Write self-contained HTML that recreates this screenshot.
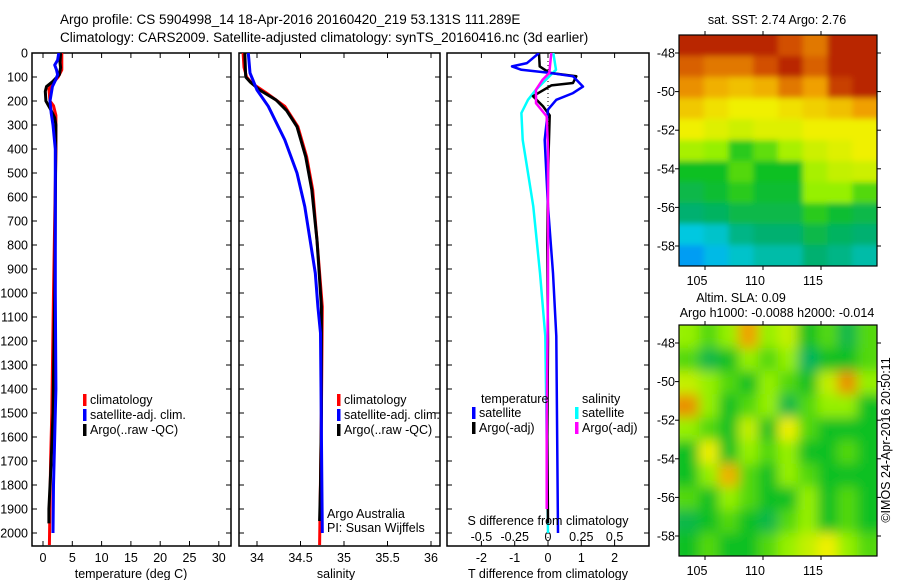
<!DOCTYPE html>
<html><head><meta charset="utf-8"><style>
body{margin:0;background:#fff;}
svg{display:block;font-family:"Liberation Sans",sans-serif;}
</style></head><body>
<svg id="c" width="900" height="580" xmlns="http://www.w3.org/2000/svg">
<defs>
<clipPath id="cp1"><rect x="32" y="53" width="199" height="493"/></clipPath>
<clipPath id="cp2"><rect x="239" y="53" width="201" height="493"/></clipPath>
<clipPath id="cp3"><rect x="447" y="53" width="202" height="493"/></clipPath>
<clipPath id="cm1"><rect x="679" y="35" width="198" height="231"/></clipPath>
<clipPath id="cm2"><rect x="679" y="325" width="198" height="231"/></clipPath>
<filter id="bl" x="-5%" y="-5%" width="110%" height="110%"><feGaussianBlur stdDeviation="6"/></filter>
<filter id="bl2" x="-5%" y="-5%" width="110%" height="110%"><feGaussianBlur stdDeviation="3"/></filter>
</defs>
<text x="60" y="24" font-size="13.5">Argo profile: CS 5904998_14 18-Apr-2016 20160420_219 53.131S 111.289E</text>
<text x="60" y="42" font-size="13.5">Climatology: CARS2009. Satellite-adjusted climatology: synTS_20160416.nc (3d earlier)</text>
<g id="g"></g>
</svg>
<script>
// ---- depth axis ----
const depthTicks=[0,100,200,300,400,500,600,700,800,900,1000,1100,1200,1300,1400,1500,1600,1700,1800,1900,2000];
// ---- temperature panel ----
const tTicks=[0,5,10,15,20,25,30];
const climT_d=[0,70,100,130,150,200,220,260,400,1000,1500,1700,2050];
const climT_v=[3.2,3.2,2.6,1.5,1.0,1.2,1.8,2.2,2.2,1.8,1.5,1.3,1.1];
const argoT_d=[0,40,60,90,120,140,160,200,230,270,300,1000,1500,1700,1900,1960];
const argoT_v=[3.0,2.9,3.0,2.8,1.6,0.6,0.4,0.5,1.2,2.0,2.2,2.0,1.7,1.4,1.0,1.0];
const satT_d=[0,30,50,70,90,110,140,200,250,300,400,1000,1400,1600,1800,2000];
const satT_v=[2.7,2.5,2.0,2.3,2.5,2.2,1.6,1.2,1.4,1.7,2.1,2.1,2.2,2.0,1.8,1.7];
// ---- salinity panel ----
const sTicks=[34,34.5,35,35.5,36];
const sTickLabels=["34","34.5","35","35.5","36"];
const climS_d=[0,60,100,126,167,222,307,432,570,780,1057,1500,2050];
const climS_v=[33.84,33.85,33.88,33.94,34.11,34.32,34.47,34.57,34.64,34.69,34.75,34.74,34.72];
const argoS_d=[0,100,120,154,196,240,307,432,570,780,1057,1500,1800,1950];
const argoS_v=[33.86,33.87,33.92,34.03,34.22,34.34,34.46,34.56,34.63,34.69,34.74,34.74,34.73,34.72];
const satS_d=[0,83,154,222,362,500,640,780,917,1057,1167,2000];
const satS_v=[33.90,33.92,34.00,34.13,34.32,34.46,34.55,34.61,34.67,34.70,34.73,34.75];
// ---- difference panel ----
const dtTicks=[-2,-1,0,1,2];
const dsTicks=[-0.5,-0.25,0,0.25,0.5];
const dsTickLabels=["-0.5","-0.25","0","0.25","0.5"];
const dTsat_d=[0,42,56,70,83,97,140,167,195,236,362,640,917,1180,2000];
const dTsat_v=[-0.27,-0.63,-1.08,-0.8,0.05,0.75,1.05,0.75,0.25,0,-0.1,0,0.15,0.25,0.3];
const dTargo_d=[0,56,83,97,125,135,180,222,260,500,800,1200,1600,1960];
const dTargo_v=[-0.27,-0.25,0.05,0.85,0.75,0.1,-0.45,-0.15,0.05,0.0,-0.02,0.0,-0.02,0.0];
const dSsat_d=[0,70,97,153,195,250,362,500,640,917,1180,2000];
const dSsat_v=[0.04,0.06,0.01,-0.09,-0.15,-0.2,-0.19,-0.15,-0.11,-0.06,-0.02,0.0];
const dSargo_d=[0,83,111,153,209,264,400,1000,1500,1900];
const dSargo_v=[0.025,0.01,-0.04,-0.09,-0.09,-0.01,0.0,0.0,-0.01,-0.01];
// ---- maps ----
const latTicks=[-48,-50,-52,-54,-56,-58];
const lonTicks=[105,110,115];
const sstGrid=[
[0.95,0.95,0.95,0.95,0.9,0.85,0.95,0.95],
[0.88,0.85,0.85,0.9,0.95,0.88,0.95,0.95],
[0.82,0.78,0.76,0.78,0.85,0.8,0.92,0.95],
[0.75,0.72,0.7,0.7,0.72,0.74,0.76,0.8],
[0.7,0.68,0.66,0.68,0.68,0.7,0.7,0.7],
[0.62,0.6,0.52,0.56,0.62,0.66,0.68,0.7],
[0.5,0.5,0.55,0.5,0.5,0.62,0.65,0.66],
[0.45,0.48,0.52,0.48,0.48,0.6,0.6,0.55],
[0.4,0.42,0.45,0.45,0.45,0.52,0.48,0.45],
[0.3,0.32,0.38,0.4,0.4,0.45,0.42,0.4],
[0.24,0.28,0.32,0.35,0.35,0.4,0.38,0.35]];
const slaGrid=[
[0.6,0.55,0.6,0.8,0.6,0.65,0.5,0.55,0.45,0.55],
[0.55,0.45,0.5,0.6,0.55,0.6,0.42,0.5,0.5,0.55],
[0.65,0.6,0.55,0.5,0.6,0.55,0.5,0.65,0.82,0.6],
[0.82,0.6,0.5,0.55,0.6,0.45,0.55,0.6,0.6,0.5],
[0.6,0.55,0.5,0.65,0.5,0.7,0.55,0.5,0.5,0.5],
[0.5,0.7,0.5,0.6,0.55,0.6,0.5,0.5,0.55,0.5],
[0.5,0.6,0.78,0.55,0.5,0.6,0.55,0.5,0.5,0.5],
[0.55,0.5,0.6,0.55,0.5,0.5,0.6,0.5,0.55,0.5],
[0.45,0.5,0.55,0.5,0.45,0.55,0.6,0.5,0.55,0.5],
[0.5,0.55,0.5,0.5,0.55,0.6,0.65,0.7,0.6,0.55]];

const NS="http://www.w3.org/2000/svg";
const G=document.getElementById('g');
function mk(tag,attrs,parent){const e=document.createElementNS(NS,tag);for(const k in attrs)e.setAttribute(k,attrs[k]);(parent||G).appendChild(e);return e;}
const Y0=53,YB=546;
const yD=d=>Y0+0.24*d;
const xT=t=>43+5.86*t;
const xS=s=>344+87*(s-35);
const xDT=t=>548+33.3*t;
const xDS=s=>548+133.2*s;

function frame(x0,x1,name,labels){
  const f=mk('rect',{x:x0,y:Y0,width:x1-x0,height:YB-Y0,fill:'none',stroke:'#000','stroke-width':1.5});
  
  
  depthTicks.forEach(d=>{
    const y=yD(d);
    mk('line',{x1:x0,x2:x0+5,y1:y,y2:y,stroke:'#000'});
    mk('line',{x1:x1-5,x2:x1,y1:y,y2:y,stroke:'#000'});
    if(labels){const t=mk('text',{x:x0-4,y:y+4.5,'font-size':12.5,'text-anchor':'end'});t.textContent=d;
      
      }
  });
}
function xticks(arr,lab,fx,ylab,name,top){
  arr.forEach((v,i)=>{const x=fx(v);
    mk('line',{x1:x,x2:x,y1:YB,y2:YB-5,stroke:'#000'});
    if(top)mk('line',{x1:x,x2:x,y1:Y0,y2:Y0+5,stroke:'#000'});
    const t=mk('text',{x:x,y:ylab,'font-size':12.5,'text-anchor':'middle'});t.textContent=lab[i];
    
    
  });
}
function line(ds,vs,fx,col,w,clip,name){
  const pts=ds.map((d,i)=>fx(vs[i]).toFixed(1)+','+yD(d).toFixed(1)).join(' ');
  const p=mk('polyline',{points:pts,fill:'none',stroke:col,'stroke-width':w,'stroke-linejoin':'round','clip-path':'url(#'+clip+')'});
  
  
}
function txt(x,y,s,str,name,anchor){const t=mk('text',{x:x,y:y,'font-size':s,'text-anchor':anchor||'start'});t.textContent=str;
  
  return t;}
function leg(x,y,col,str,name){const r=mk('rect',{x:x,y:y-10,width:3.5,height:12,fill:col});
  
  
  txt(x+7,y,12.5,str,name);}

// panel 1
frame(32,231,'temperature-panel',true);
xticks(tTicks,tTicks.map(String),xT,562,'temperature-tick-label',true);
line(climT_d,climT_v,xT,'#f00',3,'cp1','climatology-temperature-line');
line(argoT_d,argoT_v,xT,'#000',3,'cp1','argo-temperature-line');
line(satT_d,satT_v,xT,'#00f',3,'cp1','satellite-temperature-line');
txt(131,578,12.5,'temperature (deg C)','temperature-axis-title','middle');
leg(83,404,'#f00','climatology','legend-climatology');
leg(83,419,'#00f','satellite-adj. clim.','legend-satellite');
leg(83,434,'#000','Argo(..raw -QC)','legend-argo');

// panel 2
frame(239,440,'salinity-panel',false);
xticks(sTicks,sTickLabels,xS,562,'salinity-tick-label',true);
line(climS_d,climS_v,xS,'#f00',3,'cp2','climatology-salinity-line');
line(argoS_d,argoS_v,xS,'#000',3,'cp2','argo-salinity-line');
line(satS_d,satS_v,xS,'#00f',3,'cp2','satellite-salinity-line');
txt(336,578,12.5,'salinity','salinity-axis-title','middle');
leg(337,404,'#f00','climatology','legend-climatology-2');
leg(337,419,'#00f','satellite-adj. clim.','legend-satellite-2');
leg(337,434,'#000','Argo(..raw -QC)','legend-argo-2');
txt(327,518,12.5,'Argo Australia','argo-australia-label');
txt(327,532,12.5,'PI: Susan Wijffels','pi-label');

// panel 3
frame(447,649,'difference-panel',false);
xticks(dtTicks,dtTicks.map(String),xDT,562,'t-diff-tick-label',true);
dsTicks.forEach((v,i)=>{txt(xDS(v),541,12.5,dsTickLabels[i],'s-diff-tick-label','middle');});
const zl=mk('line',{x1:548,x2:548,y1:Y0,y2:YB,stroke:'#000','stroke-dasharray':'1,3'});


line(dSsat_d,dSsat_v,xDS,'#0ff',2.5,'cp3','salinity-satellite-diff-line');
line(dTargo_d,dTargo_v,xDT,'#000',2.5,'cp3','temperature-argo-diff-line');
line(dTsat_d,dTsat_v,xDT,'#00f',2.5,'cp3','temperature-satellite-diff-line');
line(dSargo_d,dSargo_v,xDS,'#f0f',2.5,'cp3','salinity-argo-diff-line');
txt(548,525,12.5,'S difference from climatology','s-diff-axis-title','middle');
txt(548,578,12.5,'T difference from climatology','t-diff-axis-title','middle');
txt(481,403,12.5,'temperature','legend-temperature-header');
leg(472,417,'#00f','satellite','legend-t-satellite');
leg(472,432,'#000','Argo(-adj)','legend-t-argo');
txt(582,403,12.5,'salinity','legend-salinity-header');
leg(575,417,'#0ff','satellite','legend-s-satellite');
leg(575,432,'#f0f','Argo(-adj)','legend-s-argo');

// maps
const cstops=[[0.1,[0,0,192]],[0.2,[0,128,255]],[0.3,[0,200,224]],[0.4,[0,176,112]],[0.5,[16,192,32]],[0.6,[150,240,0]],[0.7,[240,240,0]],[0.8,[240,160,0]],[0.9,[210,80,0]],[1.0,[160,0,0]]];
function cmap(v){for(let i=1;i<cstops.length;i++){if(v<=cstops[i][0]){const a=cstops[i-1],b=cstops[i];const f=Math.max(0,(v-a[0])/(b[0]-a[0]));
  return 'rgb('+a[1].map((c,j)=>Math.round(c+(b[1][j]-c)*f)).join(',')+')';}}return 'rgb(160,0,0)';}
function map(grid,top,clip,name,blurId){
  const x0=679,w=198,h=231;
  const g=mk('g',{'clip-path':'url(#'+clip+')'});
  
  
  const gi=mk('g',{filter:'url(#'+blurId+')'},g);
  const R=grid.length,C=grid[0].length,cw=w/C,ch=h/R;
  grid.forEach((row,r)=>row.forEach((v,c)=>{
    const e=mk('rect',{x:x0+c*cw-(c==0?10:0),y:top+r*ch-(r==0?10:0),width:cw+0.6+(c==0||c==C-1?10:0),height:ch+0.6+(r==0||r==R-1?10:0),fill:cmap(v)},gi);
    
    
  }));
  const f=mk('rect',{x:x0,y:top,width:w,height:h,fill:'none',stroke:'#000','stroke-width':1.2});
  
  
  latTicks.forEach(l=>{const y=top+18+(-48-l)*19.3;
    mk('line',{x1:x0-4,x2:x0,y1:y,y2:y,stroke:'#000'});mk('line',{x1:x0+w,x2:x0+w+4,y1:y,y2:y,stroke:'#000'});
    txt(675,y+4.5,12.5,String(l),'latitude-tick-label','end');});
  lonTicks.forEach(l=>{const x=705+(l-105)*11.6;
    mk('line',{x1:x,x2:x,y1:top-4,y2:top,stroke:'#000'});mk('line',{x1:x,x2:x,y1:top+h,y2:top+h+4,stroke:'#000'});
    txt(x-8,top+h+19,12.5,String(l),'longitude-tick-label','middle');});
}
map(sstGrid,35,'cm1','sst-map','bl2');
map(slaGrid,325,'cm2','sla-map','bl');
txt(777,24,12.5,'sat. SST: 2.74 Argo: 2.76','sst-map-title','middle');
txt(741,302,12.5,'Altim. SLA: 0.09','sla-map-title','middle');
txt(777,317,12.5,'Argo h1000: -0.0088 h2000: -0.014','sla-map-subtitle','middle');
const cr=txt(0,0,12.5,'©IMOS 24-Apr-2016 20:50:11','copyright-label','middle');
cr.setAttribute('transform','translate(890,440) rotate(-90)');
</script>
</body></html>
